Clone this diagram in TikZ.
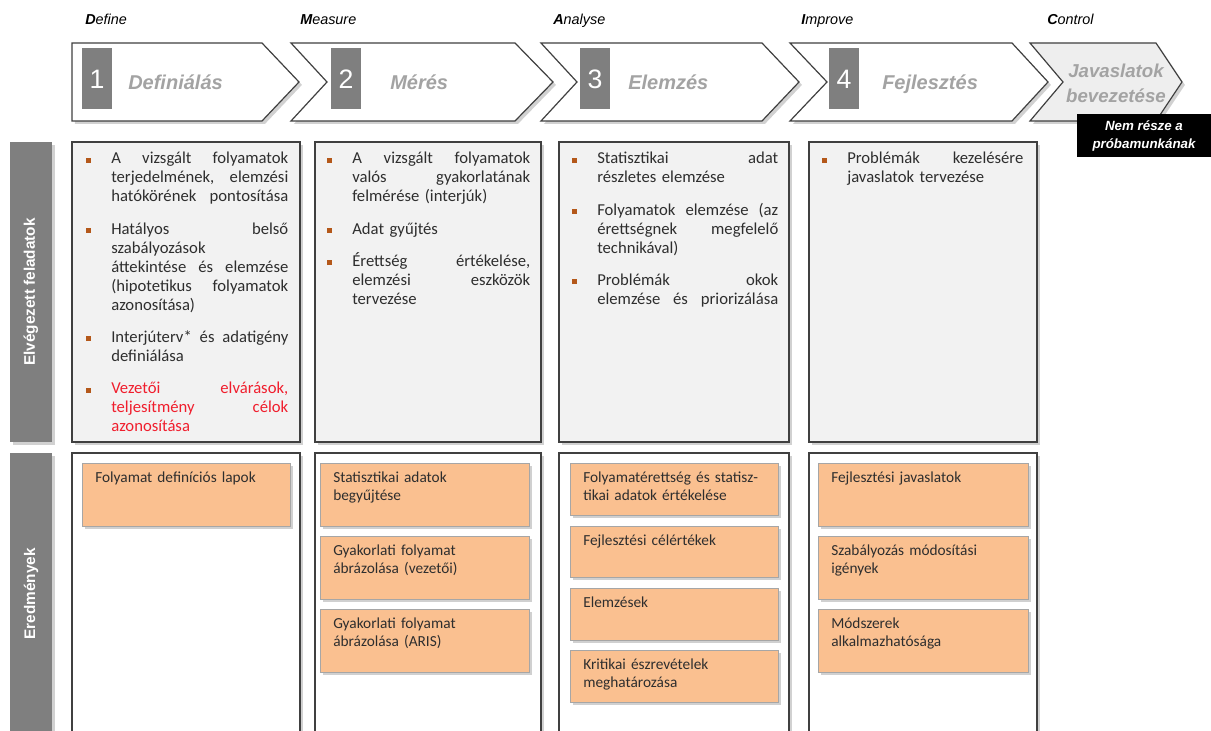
\documentclass[tikz,border=0pt]{standalone}
\usepackage{fontspec}
\setmainfont{Carlito}
\newfontfamily\arialf{Liberation Sans}
\usetikzlibrary{shadows}
\definecolor{orangebox}{HTML}{FAC090}
\definecolor{orangeline}{HTML}{A6A6A6}
\definecolor{lightfill}{HTML}{F2F2F2}
\definecolor{darkline}{HTML}{404040}
\definecolor{barfill}{HTML}{7F7F7F}
\definecolor{bulletc}{HTML}{B4581A}
\definecolor{redtext}{HTML}{F01E2D}
\definecolor{headgray}{HTML}{A3A3A3}
\definecolor{bodytext}{HTML}{2E2E2E}
\definecolor{greychev}{HTML}{EEEEEE}
\newcommand\jl[1]{\leavevmode\hbox to \tw{#1}}
\newcommand\bul{\leavevmode\llap{\textcolor{bulletc}{\rule[1.1pt]{3.6pt}{3.6pt}}\hspace{15.5pt}}}
\newcommand\boxnode[6]{\node[#1, anchor=north west, inner sep=0pt, outer sep=0pt,
  minimum width={(#4-#2)*0.75pt}, minimum height={(#5-#3)*0.75pt}] (#6) at (#2,#3) {};}
\tikzset{
  softshadow/.style={drop shadow={shadow xshift=2.2pt, shadow yshift=-2.2pt, opacity=0.3, fill=black!60}},
  chev/.style={draw=darkline, line width=0.9pt, fill=white, line join=miter, softshadow},
  chevgrey/.style={chev, fill=greychev},
  numbox/.style={fill=barfill},
  numtxt/.style={text=white, font=\arialf\fontsize{20}{22}\selectfont, inner sep=0pt},
  chevtxt/.style={text=headgray, font=\arialf\bfseries\itshape\fontsize{15}{18}\selectfont, inner sep=0pt, anchor=base west},
  phase/.style={font=\arialf\itshape\fontsize{10.8}{12}\selectfont, inner sep=0pt, anchor=base west, text=black},
  taskbox/.style={draw=darkline, line width=0.9pt, fill=lightfill, softshadow},
  resbox/.style={draw=darkline, line width=0.9pt, fill=white, softshadow},
  orbox/.style={draw=orangeline, line width=0.6pt, fill=orangebox, softshadow},
  bar/.style={fill=barfill, softshadow},
  bartxt/.style={text=white, font=\arialf\bfseries\fontsize{11.5}{13}\selectfont, rotate=90, inner sep=0pt},
  toptext/.style={anchor=base west, inner sep=0pt, align=left, text=bodytext,
    font=\fontsize{12.5}{14.25}\selectfont},
  ortext/.style={anchor=base west, inner sep=0pt, align=left, text=bodytext, text width=145pt,
    font=\fontsize{11.5}{13.5}\selectfont},
}
\begin{document}
\begin{tikzpicture}[x=0.75pt, y=-0.75pt]
\useasboundingbox (0,0) rectangle (1211,731);

% phase labels
\node[phase] (pD) at (85,25) {\textbf{D}efine};
\node[phase] (pM) at (300,25) {\textbf{M}easure};
\node[phase] (pA) at (553,25) {\textbf{A}nalyse};
\node[phase] (pI) at (801,25) {\textbf{I}mprove};
\node[phase] (pC) at (1047,25) {\textbf{C}ontrol};

% chevrons
\draw[chev] (72,43) -- (262,43) -- (299,82) -- (262,121) -- (72,121) -- cycle;
\draw[chev] (291,43) -- (515,43) -- (553,82) -- (515,121) -- (291,121) -- (327,82) -- cycle;
\draw[chev] (541,43) -- (762,43) -- (799,82) -- (762,121) -- (541,121) -- (577,82) -- cycle;
\draw[chev] (790,43) -- (1012,43) -- (1048,82) -- (1012,121) -- (790,121) -- (827,82) -- cycle;
\draw[chevgrey] (1030,43) -- (1156,43) -- (1182,82) -- (1156,121) -- (1030,121) -- (1063,82) -- cycle;

% number boxes
\fill[numbox] (82,48) rectangle (112,109);
\fill[numbox] (331,48) rectangle (361,109);
\fill[numbox] (580,48) rectangle (610,109);
\fill[numbox] (829,48) rectangle (859,109);
\node[numtxt] (n1) at (97,79) {1};
\node[numtxt] (n2) at (346,79) {2};
\node[numtxt] (n3) at (595,79) {3};
\node[numtxt] (n4) at (844,79) {4};

\node[chevtxt] (c1) at (128,90) {Definiálás};
\node[chevtxt] (c2) at (390,90) {Mérés};
\node[chevtxt] (c3) at (628,90) {Elemzés};
\node[chevtxt] (c4) at (882,90) {Fejlesztés};
\node[text=headgray, font=\arialf\bfseries\itshape\fontsize{14}{18.75}\selectfont, align=center, inner sep=0pt] (c5) at (1116,83) {Javaslatok\\bevezetése};

% black note
\boxnode{fill=black}{1077}{114}{1211}{157}{note}
\node[text=white, font=\arialf\bfseries\itshape\fontsize{10}{13.5}\selectfont, align=center, inner sep=0pt] (notet) at (note.center) {Nem része a\\próbamunkának};

% left bars
\boxnode{bar}{10}{142}{52}{442}{bar1}
\boxnode{bar}{10}{453}{52}{740}{bar2}
\node[bartxt] (bar1t) at (bar1.center) {Elvégezett feladatok};
\node[bartxt] (bar2t) at (31,594) {Eredmények};

% task boxes
\boxnode{taskbox}{72}{142}{300}{442}{t1}
\boxnode{taskbox}{315}{142}{541}{442}{t2}
\boxnode{taskbox}{559}{142}{789}{442}{t3}
\boxnode{taskbox}{809}{142}{1037}{442}{t4}

% result boxes
\boxnode{resbox}{72}{453}{300}{745}{r1}
\boxnode{resbox}{315}{453}{541}{745}{r2}
\boxnode{resbox}{559}{453}{789}{745}{r3}
\boxnode{resbox}{809}{453}{1037}{745}{r4}

% task texts
\node[toptext, text width=134pt] (tt1) at (111,164) {\def\tw{132.75pt}%
\bul\jl{A\hfill vizsgált\hfill folyamatok}\\
\jl{terjedelmének,\hfill elemzési}\\
\jl{hatókörének\hfill pontosítása}\\[10pt]
\bul\jl{Hatályos\hfill belső}\\
szabályozások\\
\jl{áttekintése\hfill és\hfill elemzése}\\
\jl{(hipotetikus\hfill folyamatok}\\
azonosítása)\\[10pt]
\bul\jl{Interjúterv*\hfill és\hfill adatigény}\\
definiálása\\[10pt]
\bul\textcolor{redtext}{\jl{Vezetői\hfill elvárások,}}\\
\textcolor{redtext}{\jl{teljesítmény\hfill célok}}\\
\textcolor{redtext}{azonosítása}};

\node[toptext, text width=135pt] (tt2) at (352,164) {\def\tw{133.5pt}%
\bul\jl{A\hfill vizsgált\hfill folyamatok}\\
\jl{valós\hfill gyakorlatának}\\
felmérése (interjúk)\\[10pt]
\bul Adat gyűjtés\\[10pt]
\bul\jl{Érettség\hfill értékelése,}\\
\jl{elemzési\hfill eszközök}\\
tervezése};

\node[toptext, text width=137pt] (tt3) at (597,164) {\def\tw{135.75pt}%
\bul\jl{Statisztikai\hfill adat}\\
részletes elemzése\\[10pt]
\bul\jl{Folyamatok\hfill elemzése\hfill (az}\\
\jl{érettségnek\hfill megfelelő}\\
technikával)\\[10pt]
\bul\jl{Problémák\hfill okok}\\
\jl{elemzése\hfill és\hfill priorizálása}};

\node[toptext, text width=133pt] (tt4) at (847,164) {\def\tw{132pt}%
\bul\jl{Problémák\hfill kezelésére}\\
javaslatok tervezése};

% orange result boxes
\boxnode{orbox}{82}{463}{290}{526}{o11}
\boxnode{orbox}{320}{463}{529}{526}{o21}
\boxnode{orbox}{320}{536}{529}{599}{o22}
\boxnode{orbox}{320}{609}{529}{672}{o23}
\boxnode{orbox}{570}{463}{778}{515}{o31}
\boxnode{orbox}{570}{526}{778}{577}{o32}
\boxnode{orbox}{570}{588}{778}{640}{o33}
\boxnode{orbox}{570}{650}{778}{702}{o34}
\boxnode{orbox}{818}{463}{1028}{526}{o41}
\boxnode{orbox}{818}{536}{1028}{599}{o42}
\boxnode{orbox}{818}{609}{1028}{672}{o43}

\node[ortext] (x11) at ([shift={(13,19)}]o11.north west) {Folyamat definíciós lapok};
\node[ortext] (x21) at ([shift={(13,19)}]o21.north west) {Statisztikai adatok\\begyűjtése};
\node[ortext] (x22) at ([shift={(13,19)}]o22.north west) {Gyakorlati folyamat\\ábrázolása (vezetői)};
\node[ortext] (x23) at ([shift={(13,19)}]o23.north west) {Gyakorlati folyamat\\ábrázolása (ARIS)};
\node[ortext] (x31) at ([shift={(13,19)}]o31.north west) {Folyamatérettség és statisz-\\tikai adatok értékelése};
\node[ortext] (x32) at ([shift={(13,19)}]o32.north west) {Fejlesztési célértékek};
\node[ortext] (x33) at ([shift={(13,19)}]o33.north west) {Elemzések};
\node[ortext] (x34) at ([shift={(13,19)}]o34.north west) {Kritikai észrevételek\\meghatározása};
\node[ortext] (x41) at ([shift={(13,19)}]o41.north west) {Fejlesztési javaslatok};
\node[ortext] (x42) at ([shift={(13,19)}]o42.north west) {Szabályozás módosítási\\igények};
\node[ortext] (x43) at ([shift={(13,19)}]o43.north west) {Módszerek\\alkalmazhatósága};
\end{tikzpicture}
\end{document}
